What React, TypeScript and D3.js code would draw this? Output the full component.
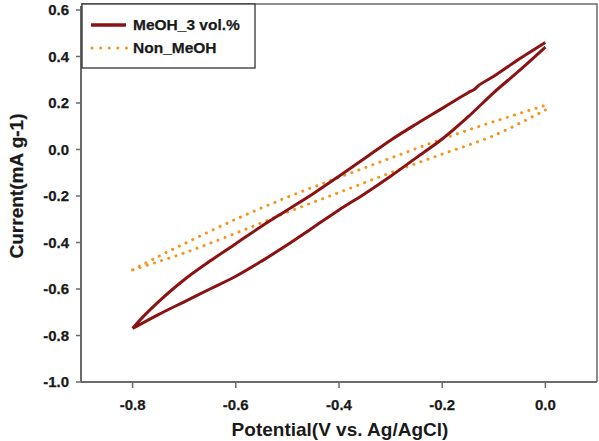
import React from "react";
import * as d3 from "d3";

// Cyclic voltammetry sweeps: potential (V vs. Ag/AgCl) and current (mA g-1)
const meohForwardV = [-0.8, -0.78, -0.75, -0.7, -0.65, -0.6, -0.55, -0.5, -0.45, -0.4, -0.35, -0.3, -0.25, -0.2, -0.15, -0.138, -0.128, -0.1, -0.05, 0];
const meohForwardI = [-0.77, -0.72, -0.655, -0.56, -0.48, -0.405, -0.33, -0.26, -0.19, -0.115, -0.038, 0.04, 0.11, 0.177, 0.244, 0.258, 0.278, 0.315, 0.39, 0.46];
const meohReverseV = [0, -0.05, -0.1, -0.15, -0.2, -0.25, -0.3, -0.35, -0.4, -0.45, -0.5, -0.55, -0.6, -0.65, -0.7, -0.75, -0.8];
const meohReverseI = [0.44, 0.34, 0.245, 0.14, 0.045, -0.035, -0.115, -0.19, -0.26, -0.335, -0.41, -0.48, -0.545, -0.6, -0.655, -0.71, -0.77];

const nonForwardV = [-0.8, -0.75, -0.7, -0.6, -0.5, -0.4, -0.3, -0.2, -0.1, 0];
const nonForwardI = [-0.518, -0.46, -0.405, -0.3, -0.205, -0.12, -0.037, 0.045, 0.12, 0.19];
const nonReverseV = [0, -0.1, -0.2, -0.3, -0.4, -0.5, -0.6, -0.7, -0.8];
const nonReverseI = [0.17, 0.06, -0.02, -0.1, -0.185, -0.27, -0.36, -0.445, -0.518];

const xTicks = [-0.8, -0.6, -0.4, -0.2, 0.0];
const yTicks = [0.6, 0.4, 0.2, 0.0, -0.2, -0.4, -0.6, -0.8, -1.0];
const seriesNames = ["MeOH_3 vol.%", "Non_MeOH"];

const W = 599;
const H = 441;
const left = 81;
const right = 597;
const top = 10;
const bottom = 382;
const frameTop = 4;

const RED = "#8b1212";
const ORANGE = "#f7941d";
const FONT = "'Liberation Sans', Arial, sans-serif";
const AXIS = "#6b6b6b";
const INK = "#1a1a1a";

// tick labels use a plain hyphen for the minus sign
const fmt = (v: number) => d3.format(".1f")(v).replace("\u2212", "-");

function zipPts(v: number[], i: number[]) {
  return v.map((d, k) => [d, i[k]] as [number, number]);
}

export default function App() {
  const x = d3.scaleLinear().domain([-0.9, 0.1]).range([left, right]);
  const y = d3.scaleLinear().domain([-1.0, 0.6]).range([bottom, top]);

  const line = d3
    .line<[number, number]>()
    .x((d) => x(d[0]))
    .y((d) => y(d[1]))
    .curve(d3.curveCatmullRom.alpha(0.5));

  const meohPath =
    (line(zipPts(meohForwardV, meohForwardI)) || "") +
    (line(zipPts(meohReverseV, meohReverseI)) || "");
  const nonPath =
    (line(zipPts(nonForwardV, nonForwardI)) || "") +
    (line(zipPts(nonReverseV, nonReverseI)) || "");

  const textStyle = { stroke: INK, strokeWidth: 0.25 };

  return (
    <svg
      width={W}
      height={H}
      style={{ position: "absolute", left: 0, top: 0, background: "#fff" }}
      fontFamily={FONT}
    >
      <rect x={0} y={0} width={W} height={H} fill="#fff" />
      {/* frame */}
      <path
        d={`M${left},${frameTop}H${right}V${bottom}`}
        fill="none"
        stroke={AXIS}
        strokeWidth={1.5}
      />
      <line x1={left} x2={right} y1={bottom} y2={bottom} stroke={AXIS} strokeWidth={2} />
      <line x1={left} x2={left} y1={frameTop + 2} y2={bottom} stroke={AXIS} strokeWidth={2} />

      {/* y ticks */}
      {yTicks.map((t) => (
        <g key={"y" + t}>
          <line x1={left - 5} x2={left} y1={y(t)} y2={y(t)} stroke={AXIS} strokeWidth={1.5} />
          <text
            x={left - 12}
            y={y(t)}
            dy="0.35em"
            textAnchor="end"
            fontSize={15}
            fontWeight="bold"
            fill={INK}
            style={textStyle}
          >
            {fmt(t)}
          </text>
        </g>
      ))}

      {/* x ticks */}
      {xTicks.map((t) => (
        <g key={"x" + t}>
          <line x1={x(t)} x2={x(t)} y1={bottom} y2={bottom + 6} stroke={AXIS} strokeWidth={1.5} />
          <text
            x={x(t)}
            y={bottom + 23}
            dy="0.35em"
            textAnchor="middle"
            fontSize={15}
            fontWeight="bold"
            fill={INK}
            style={textStyle}
          >
            {fmt(t)}
          </text>
        </g>
      ))}

      {/* axis titles */}
      <text
        x={(left + right) / 2 + 1}
        y={436}
        textAnchor="middle"
        fontSize={19}
        fontWeight="bold"
        fill={INK}
      >
        Potential(V vs. Ag/AgCl)
      </text>
      <text
        transform={`translate(23,${186}) rotate(-90)`}
        textAnchor="middle"
        fontSize={19}
        fontWeight="bold"
        fill={INK}
        style={textStyle}
      >
        Current(mA g-1)
      </text>

      {/* curves */}
      <path
        d={nonPath}
        fill="none"
        stroke={ORANGE}
        strokeWidth={3}
        strokeLinecap="round"
        strokeDasharray="0.1 7.4"
      />
      <path
        d={meohPath}
        fill="none"
        stroke={RED}
        strokeWidth={3}
        strokeLinejoin="round"
      />

      {/* legend */}
      <rect x={82} y={frameTop} width={173} height={64} fill="#fff" stroke="#333" strokeWidth={1.3} />
      <line x1={91} x2={126} y1={25} y2={25} stroke={RED} strokeWidth={3.5} />
      <line
        x1={92}
        x2={127}
        y1={48}
        y2={48}
        stroke={ORANGE}
        strokeWidth={3}
        strokeLinecap="round"
        strokeDasharray="0.1 8.5"
      />
      <text x={133} y={30} fontSize={15.5} fontWeight="bold" fill={INK} style={textStyle}>
        {seriesNames[0]}
      </text>
      <text x={133} y={53} fontSize={15.5} fontWeight="bold" fill={INK} style={textStyle}>
        {seriesNames[1]}
      </text>
    </svg>
  );
}
